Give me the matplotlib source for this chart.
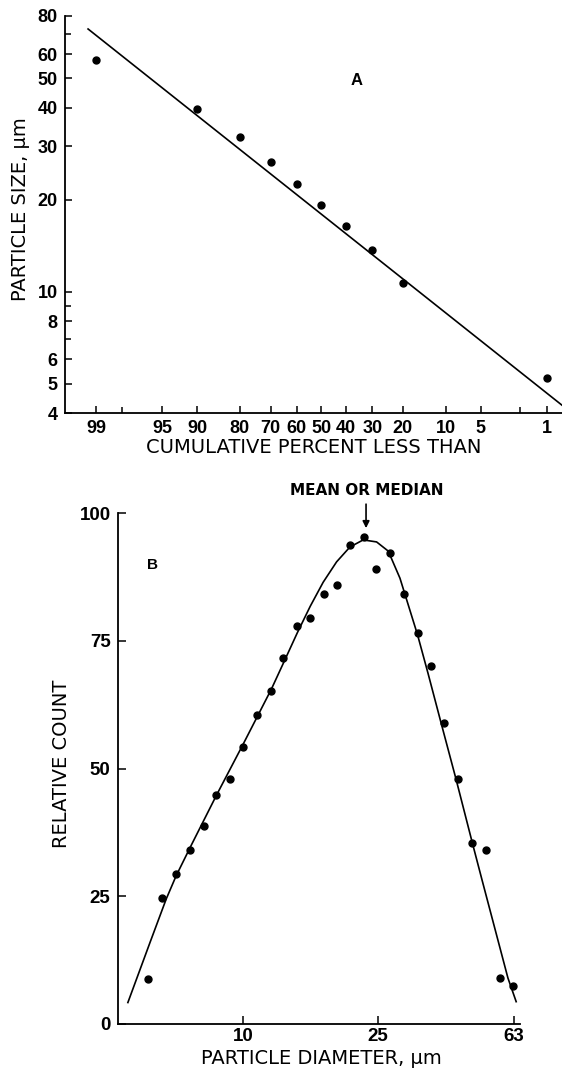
from statistics import NormalDist
import numpy as np
import matplotlib
matplotlib.use("Agg")
import matplotlib.pyplot as plt
from matplotlib.ticker import FixedLocator, FixedFormatter, NullFormatter, NullLocator

# panel A : cumulative percent vs particle size (log-probability)
pct_points = [99, 90, 80, 70, 60, 50, 40, 30, 20, 1]
size_points = [57.2, 39.7, 32.2, 26.5, 22.6, 19.3, 16.4, 13.7, 10.7, 5.22]
fit_pct = [99.2, 0.5]
fit_size = [72.5, 4.03]
pct_ticks = [99, 95, 90, 80, 70, 60, 50, 40, 30, 20, 10, 5, 1]
pct_minor = [98, 2]
size_ticks = [4, 5, 6, 8, 10, 20, 30, 40, 50, 60, 80]
size_minor = [7, 9, 70]

# panel B : particle diameter vs relative count
diam_points = [5.23, 5.74, 6.32, 6.97, 7.62, 8.32, 9.14, 9.98, 10.95, 12.10,
               13.09, 14.43, 15.76, 17.26, 18.89, 20.68, 22.69, 24.71, 27.05,
               29.82, 32.74, 35.93, 39.31, 43.04, 47.58, 52.06, 57.43, 62.89]
count_points = [8.9, 24.7, 29.3, 34.1, 38.8, 44.8, 48.0, 54.3, 60.6, 65.2,
                71.6, 78.0, 79.6, 84.3, 86.0, 93.8, 95.4, 89.1, 92.3,
                84.3, 76.5, 70.2, 59.0, 47.9, 35.5, 34.0, 9.0, 7.5]
curve_diam = [4.55, 5.30, 5.91, 6.32, 6.97, 8.32, 9.98, 12.10, 13.09, 14.43,
              15.76, 17.21, 18.86, 20.65, 22.61, 24.77, 26.82, 29.04, 32.74,
              35.15, 38.38, 42.53, 47.58, 50.8, 60.6, 64.1]
curve_count = [4.2, 16.1, 24.5, 29.0, 34.7, 44.8, 54.8, 65.6, 70.5, 76.6,
               81.8, 86.5, 90.5, 93.4, 94.8, 94.4, 92.6, 87.3, 76.2,
               68.7, 59.1, 48.0, 35.4, 28.2, 9.0, 4.37]
diam_ticks = [10, 25, 63]
count_ticks = [0, 25, 50, 75, 100]

ND = NormalDist()
LABEL_FONT = ["DejaVu Sans"]


def probit(p):
    p = np.clip(np.asarray(p, dtype=float) / 100.0, 1e-9, 1 - 1e-9)
    return np.vectorize(ND.inv_cdf, otypes=[float])(p)


def inv_probit(z):
    return np.vectorize(ND.cdf, otypes=[float])(np.asarray(z, dtype=float)) * 100.0


def style_axes(ax):
    for side in ("top", "right"):
        ax.spines[side].set_visible(False)
    for side in ("left", "bottom"):
        ax.spines[side].set_linewidth(1.3)
    ax.tick_params(which="both", direction="in", width=1.1, colors="black")


def main():
    plt.rcParams["font.family"] = ["Liberation Sans", "DejaVu Sans"]
    fig = plt.figure(figsize=(5.62, 10.69), dpi=100)

    # ---- panel A
    ax1 = fig.add_axes([0.1148, 0.6134, 0.8852, 0.3717])
    ax1.set_xscale("function", functions=(probit, inv_probit))
    ax1.set_yscale("log")
    ax1.plot(fit_pct, fit_size, color="black", lw=1.2)
    ax1.plot(pct_points, size_points, "o", color="black", ms=5, mec="black")
    ax1.set_xlim(99.6, 0.65)
    ax1.set_ylim(4, 80)
    style_axes(ax1)
    ax1.xaxis.set_major_locator(FixedLocator(pct_ticks))
    ax1.xaxis.set_major_formatter(FixedFormatter([str(t) for t in pct_ticks]))
    ax1.xaxis.set_minor_locator(FixedLocator(pct_minor))
    ax1.xaxis.set_minor_formatter(NullFormatter())
    ax1.yaxis.set_major_locator(FixedLocator(size_ticks))
    ax1.yaxis.set_major_formatter(FixedFormatter([str(t) for t in size_ticks]))
    ax1.yaxis.set_minor_locator(FixedLocator(size_minor))
    ax1.yaxis.set_minor_formatter(NullFormatter())
    ax1.tick_params(which="major", length=5, pad=5, labelsize=13)
    ax1.tick_params(which="minor", length=4)
    for lab in ax1.get_xticklabels() + ax1.get_yticklabels():
        lab.set_fontweight("bold")
    ax1.set_xlabel("CUMULATIVE PERCENT LESS THAN", fontsize=14, va="center",
                   family=LABEL_FONT)
    ax1.xaxis.set_label_coords(0.5, -0.087)
    ax1.set_ylabel("PARTICLE SIZE, \u03bcm", fontsize=14, va="center",
                   family=LABEL_FONT)
    ax1.yaxis.set_label_coords(-0.089, 0.514)
    ax1.text(36, 49, "A", fontsize=12, fontweight="bold", ha="center",
             va="center", family=["Liberation Sans Narrow", "Liberation Sans"])

    # ---- panel B
    ax2 = fig.add_axes([0.2091, 0.0421, 0.7162, 0.4777])
    ax2.set_xscale("log")
    ax2.plot(curve_diam, curve_count, color="black", lw=1.2)
    ax2.plot(diam_points, count_points, "o", color="black", ms=5, mec="black")
    ax2.set_xlim(4.24, 65.8)
    ax2.set_ylim(0, 100)
    style_axes(ax2)
    ax2.xaxis.set_major_locator(FixedLocator(diam_ticks))
    ax2.xaxis.set_major_formatter(FixedFormatter([str(t) for t in diam_ticks]))
    ax2.xaxis.set_minor_locator(NullLocator())
    ax2.yaxis.set_major_locator(FixedLocator(count_ticks))
    ax2.tick_params(which="major", length=6, labelsize=13.5)
    ax2.tick_params(axis="x", pad=3)
    ax2.tick_params(axis="y", pad=5)
    for lab in ax2.get_xticklabels() + ax2.get_yticklabels():
        lab.set_fontweight("bold")
    ax2.set_xlabel("PARTICLE DIAMETER, \u03bcm", fontsize=14, va="center",
                   family=LABEL_FONT)
    ax2.xaxis.set_label_coords(0.507, -0.0685)
    ax2.set_ylabel("RELATIVE COUNT", fontsize=14, va="center", family=LABEL_FONT)
    ax2.yaxis.set_label_coords(-0.138, 0.509)
    ax2.text(5.39, 89.9, "B", fontsize=11, fontweight="bold", ha="center",
             va="center", family=["Liberation Sans Narrow", "Liberation Sans"])

    ax2.annotate("", xy=(23.05, 97.1), xytext=(23.05, 101.8),
                 arrowprops=dict(arrowstyle="-|>", color="black", lw=1.2,
                                 mutation_scale=10, shrinkA=0, shrinkB=0),
                 annotation_clip=False)
    ax2.text(23.2, 104.4, "MEAN OR MEDIAN", fontsize=11, fontweight="bold",
             ha="center", va="center", clip_on=False, family=LABEL_FONT)

    fig.savefig("out.png", dpi=100)


if __name__ == "__main__":
    main()
